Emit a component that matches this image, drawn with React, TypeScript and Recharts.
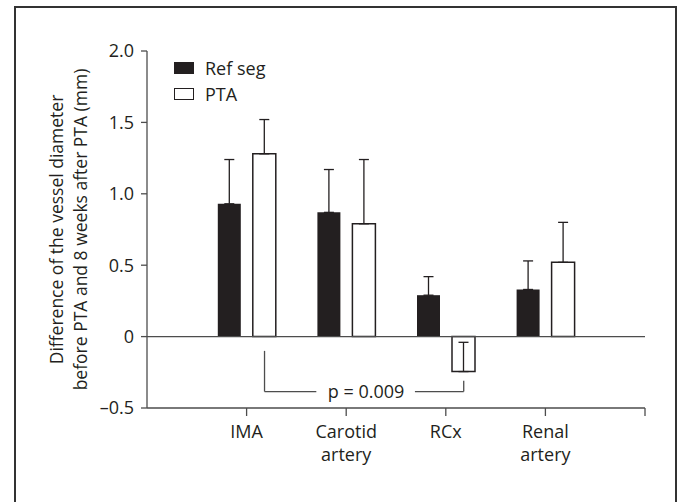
import React from 'react';
import {
  BarChart,
  Bar,
  XAxis,
  YAxis,
  ErrorBar,
  ReferenceLine,
  ReferenceDot,
  Legend,
  Label,
} from 'recharts';

const CATEGORIES = ['IMA', 'Carotid artery', 'RCx', 'Renal artery'];
const SERIES = ['Ref seg', 'PTA'];
const REF_SEG = [0.93, 0.87, 0.29, 0.33];
const REF_SEG_SD = [0.31, 0.3, 0.13, 0.2];
const PTA = [1.28, 0.79, -0.245, 0.52];
const PTA_SD = [0.24, 0.45, 0.205, 0.28];
const Y_TICKS = [-0.5, 0, 0.5, 1.0, 1.5, 2.0];
const X_TICKS = [1, 2, 3, 4, 5];
const Y_TITLE = ['Difference of the vessel diameter', 'before PTA and 8 weeks after PTA (mm)'];
const P_LABEL = 'p = 0.009';

const INK = '#231f20';
const AXIS = '#4d4d4d';
const FONT = '"Open Sans", sans-serif';
const FS = 18;

// note: a field called "ref" would get spread onto the bar shapes, so refSeg
const data = CATEGORIES.map((name, i) => ({
  pos: i + 1,
  name,
  refSeg: REF_SEG[i],
  refSegErr: [0, REF_SEG_SD[i]],
  pta: PTA[i],
  ptaErr: [0, PTA_SD[i]],
}));

function renderXTick(props: any) {
  const { x, y, payload } = props;
  const name = CATEGORIES[payload.value - 1];
  if (!name) return <g />;
  return (
    <text x={x} y={y} textAnchor="middle" fill={INK} fontSize={FS} fontFamily={FONT}>
      {name.split(' ').map((l, i) => (
        <tspan key={i} x={x} dy={i === 0 ? 20 : 23}>
          {l}
        </tspan>
      ))}
    </text>
  );
}

function renderYTitle(props: any) {
  const { viewBox } = props;
  const right = viewBox.x + viewBox.width;
  const cy = viewBox.y + viewBox.height / 2;
  const xs = [right - 84, right - 60];
  return (
    <g>
      {Y_TITLE.map((l, i) => (
        <text
          key={i}
          x={xs[i]}
          y={cy}
          transform={`rotate(-90 ${xs[i]} ${cy})`}
          textAnchor="middle"
          fill={INK}
          fontSize={17.5}
          fontFamily={FONT}
        >
          {l}
        </text>
      ))}
    </g>
  );
}

function renderLegend(props: any) {
  const items = [...(props.payload || [])].sort(
    (a: any, b: any) => SERIES.indexOf(a.value) - SERIES.indexOf(b.value)
  );
  return (
    <div style={{ fontFamily: FONT, fontSize: FS, color: INK }}>
      {items.map((entry: any) => (
        <div key={entry.value} style={{ display: 'flex', alignItems: 'center', height: 26 }}>
          <span
            style={{
              display: 'inline-block',
              width: 20,
              height: 12,
              boxSizing: 'border-box',
              background: entry.color,
              border: `1.5px solid ${INK}`,
              marginRight: 11,
            }}
          />
          {entry.value}
        </div>
      ))}
    </div>
  );
}

const yFmt = (v: number) => (v === 0 ? '0' : v < 0 ? '\u2013' + Math.abs(v).toFixed(1) : v.toFixed(1));

// bracket for the p-value, in data units
const BR_L = 1.18;
const BR_R = 3.18;
const BR_Y = -0.385;

export default function App() {
  return (
    <div
      style={{
        position: 'fixed',
        left: 14,
        top: 6,
        width: 663,
        height: 520,
        boxSizing: 'border-box',
        border: '2px solid #333',
        background: '#fff',
      }}
    >
      <BarChart
        width={659}
        height={490}
        data={data}
        barGap={12}
        margin={{ top: 43, right: 30, bottom: 30, left: 0 }}
      >
        <XAxis
          dataKey="pos"
          type="number"
          domain={[0, 5]}
          ticks={X_TICKS}
          tick={renderXTick}
          tickSize={8}
          tickMargin={2}
          height={60}
          stroke={AXIS}
          strokeWidth={1.3}
        />
        <YAxis
          domain={[-0.5, 2]}
          ticks={Y_TICKS}
          tickFormatter={yFmt}
          width={131}
          tickSize={6}
          tickMargin={7}
          stroke={AXIS}
          strokeWidth={1.3}
          tick={{ fill: INK, fontSize: FS, fontFamily: FONT }}
        >
          <Label content={renderYTitle} />
        </YAxis>
        <Legend
          layout="vertical"
          align="center"
          verticalAlign="middle"
          wrapperStyle={{ left: 158, top: 47, width: 'auto' }}
          content={renderLegend}
        />
        <ReferenceLine y={0} stroke={AXIS} strokeWidth={1.3} />
        <Bar dataKey="refSeg" name={SERIES[0]} fill={INK} barSize={23} isAnimationActive={false}>
          <ErrorBar dataKey="refSegErr" width={5} stroke={INK} strokeWidth={1.3} direction="y" />
        </Bar>
        <Bar
          dataKey="pta"
          name={SERIES[1]}
          fill="#ffffff"
          stroke={INK}
          strokeWidth={1.5}
          barSize={23}
          isAnimationActive={false}
        >
          <ErrorBar dataKey="ptaErr" width={5} stroke={INK} strokeWidth={1.3} direction="y" />
        </Bar>
        <ReferenceLine
          segment={[{ x: BR_L, y: -0.1 }, { x: BR_L, y: BR_Y }]}
          stroke={AXIS}
          strokeWidth={1.3}
          ifOverflow="visible"
        />
        <ReferenceLine
          segment={[{ x: BR_L, y: BR_Y }, { x: 1.7, y: BR_Y }]}
          stroke={AXIS}
          strokeWidth={1.3}
          ifOverflow="visible"
        />
        <ReferenceLine
          segment={[{ x: 2.69, y: BR_Y }, { x: BR_R, y: BR_Y }]}
          stroke={AXIS}
          strokeWidth={1.3}
          ifOverflow="visible"
        />
        <ReferenceLine
          segment={[{ x: BR_R, y: BR_Y }, { x: BR_R, y: -0.31 }]}
          stroke={AXIS}
          strokeWidth={1.3}
          ifOverflow="visible"
        />
        <ReferenceDot
          x={2.2}
          y={BR_Y}
          r={0}
          fill="none"
          stroke="none"
          ifOverflow="visible"
          label={{ value: P_LABEL, position: 'center', fill: INK, fontSize: FS, fontFamily: FONT }}
        />
      </BarChart>
    </div>
  );
}
